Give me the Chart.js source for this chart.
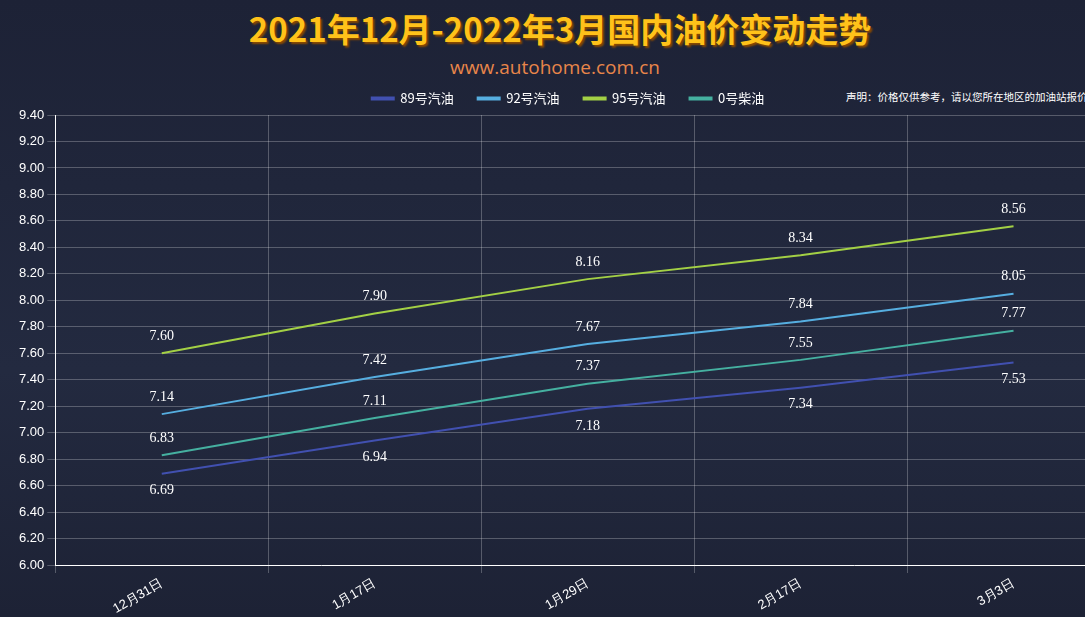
<!DOCTYPE html>
<html>
<head>
<meta charset="utf-8">
<script src="https://cdn.jsdelivr.net/npm/chart.js@4.4.0/dist/chart.umd.min.js"></script>
<style>
  body { margin: 0; width: 1085px; height: 617px; overflow: hidden;
    background: linear-gradient(180deg, #1d2236 0%, #232a40 60%, #1d2235 100%);
    font-family: "Noto Sans CJK SC", sans-serif; position: relative; }
  #title { position: absolute; top: 4px; left: 0; width: 1120px; text-align: center;
    color: #ffc21a; font-size: 33px; font-weight: bold; text-shadow: 2px 2px 2px #8a4a00; }
  #site { position: absolute; top: 54px; left: 0; width: 1110px; text-align: center;
    color: #e8864a; font-size: 19px; font-family: "Open Sans", sans-serif; }
  #note { position: absolute; top: 89px; left: 846px; color: #fff; font-size: 10.5px; white-space: nowrap; }
  #wrap { position: absolute; top: 68px; left: 0; width: 1120px; height: 552px; }
</style>
</head>
<body>
<div id="title">2021年12月-2022年3月国内油价变动走势</div>
<div id="site">www.autohome.com.cn</div>
<div id="note">声明：价格仅供参考，请以您所在地区的加油站报价为准</div>
<div id="wrap"><canvas id="chart"></canvas></div>
<script>
const dates = ["12月31日", "1月17日", "1月29日", "2月17日", "3月3日"];
const gas89 = [6.69, 6.94, 7.18, 7.34, 7.53];
const gas92 = [7.14, 7.42, 7.67, 7.84, 8.05];
const gas95 = [7.60, 7.90, 8.16, 8.34, 8.56];
const diesel0 = [6.83, 7.11, 7.37, 7.55, 7.77];

// Draw value labels next to each point (89 below, others above)
const valueLabels = {
  id: "valueLabels",
  afterDatasetsDraw(chart) {
    const ctx = chart.ctx;
    ctx.save();
    ctx.font = "14px 'Liberation Serif', serif";
    ctx.fillStyle = "#ffffff";
    ctx.textAlign = "center";
    chart.data.datasets.forEach((ds, i) => {
      chart.getDatasetMeta(i).data.forEach((pt, j) => {
        const below = i === 0;
        ctx.textBaseline = below ? "top" : "bottom";
        ctx.fillText(ds.data[j].toFixed(2), pt.x, below ? pt.y + 10 : pt.y - 10);
      });
    });
    ctx.restore();
  },
};

function line(label, data, color) {
  return { label, data, borderColor: color, backgroundColor: color,
    borderWidth: 2, pointRadius: 0, tension: 0 };
}

new Chart(document.getElementById("chart"), {
  type: "line",
  data: {
    labels: dates,
    datasets: [
      line("89号汽油", gas89, "#4150b0"),
      line("92号汽油", gas92, "#56aee0"),
      line("95号汽油", gas95, "#a3d045"),
      line("0号柴油", diesel0, "#45b0a0"),
    ],
  },
  options: {
    responsive: true,
    maintainAspectRatio: false,
    animation: false,
    layout: { padding: { top: 0, left: 16, right: 0, bottom: 0 } },
    plugins: {
      legend: {
        align: "center",
        labels: { color: "#ffffff", boxWidth: 22, boxHeight: 2,
          font: { size: 13, family: "'Noto Sans CJK SC'" }, padding: 24 },
      },
      tooltip: { enabled: false },
    },
    scales: {
      y: {
        min: 6, max: 9.4,
        ticks: { stepSize: 0.2, color: "#ffffff", font: { size: 13 },
          callback: (v) => v.toFixed(2) },
        grid: { color: "rgba(255,255,255,0.25)" },
        border: { color: "#ffffff" },
      },
      x: {
        offset: true,
        ticks: { color: "#ffffff", maxRotation: 30, minRotation: 30, font: { size: 13 } },
        grid: { color: "rgba(255,255,255,0.25)", offset: true },
        border: { color: "#ffffff" },
      },
    },
  },
  plugins: [valueLabels],
});
</script>
</body>
</html>
